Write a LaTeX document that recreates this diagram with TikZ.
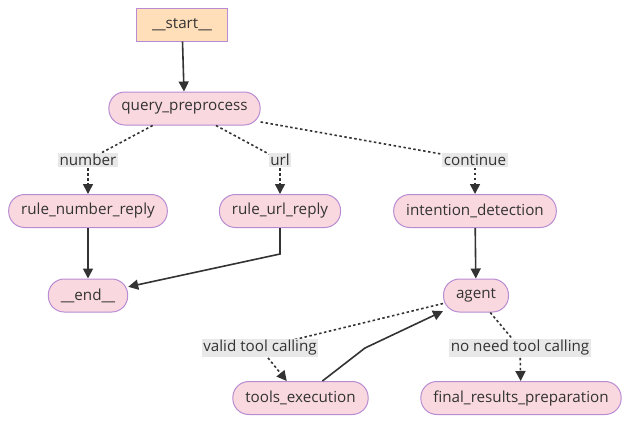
\documentclass[tikz,border=0pt]{standalone}
\usepackage{fontspec}
\setmainfont{Open Sans}
\usetikzlibrary{arrows.meta}
\definecolor{nodefill}{HTML}{F9D9DF}
\definecolor{startfill}{HTML}{FFDFBA}
\definecolor{nodeline}{HTML}{B98BD3}
\definecolor{edgeline}{HTML}{333333}
\definecolor{labelfill}{HTML}{E8E8E8}
\tikzset{
  state/.style={draw=nodeline, fill=nodefill, line width=1pt, rounded corners=16pt,
    minimum height=33pt, inner xsep=12.5pt, font=\fontsize{15.2}{17}\selectfont, text=edgeline},
  entry/.style={state, fill=startfill, rounded corners=0pt, inner xsep=16pt},
  cond/.style={fill=labelfill, inner sep=1.5pt, font=\fontsize{15.2}{17}\selectfont, text=edgeline},
  flow/.style={draw=edgeline, line width=1.6pt, -{Triangle[length=10pt,width=10pt]}},
  branch/.style={draw=edgeline, line width=1.6pt, dash pattern=on 2.5pt off 2.5pt},
}
\begin{document}
\begin{tikzpicture}[x=1pt, y=-1pt]
      \useasboundingbox (0,0) rectangle (631,424);
      \draw
        (182,24.5) node[entry] (start){\_\_start\_\_}
        (184.5,108.5) node[state] (qp){query\_preprocess}
        (88,211) node[state] (rnr){rule\_number\_reply}
        (280,211) node[state] (rur){rule\_url\_reply}
        (475,211) node[state] (intd){intention\_detection}
        (88,295.5) node[state] (end){\_\_end\_\_}
        (476,295.5) node[state] (agent){agent}
        (300.5,398) node[state] (tex){tools\_execution}
        (521,398) node[state] (frp){final\_results\_preparation};
      \coordinate (urlbend) at (280,254);
      \coordinate (toolbend) at (365,348);
      \begin{scope}[branch]
        \draw (qp) to (88,160) node[cond] (lnum){number};
        \draw (qp) to (280,160) node[cond] (lurl){url};
        \draw (qp) to (475,160) node[cond] (lcont){continue};
        \draw (agent) to (260,348) node[cond] (lvalid){valid tool calling};
        \draw (agent) to (520,348) node[cond] (lnoneed){no need tool calling};
      \end{scope}
      \begin{scope}[branch, -{Triangle[length=10pt,width=10pt]}]
        \draw (lnum) to (rnr);
        \draw (lurl) to (rur);
        \draw (lcont) to (intd);
        \draw (lvalid) to (tex);
        \draw (lnoneed) to (frp);
      \end{scope}
      \begin{scope}[flow]
        \draw (start) to (qp);
        \draw (rnr) to (end);
        \draw (rur) -- (urlbend) to (end);
        \draw (intd) to (agent);
        \draw (tex) -- (toolbend) to (agent);
      \end{scope}
    \end{tikzpicture}
\end{document}
